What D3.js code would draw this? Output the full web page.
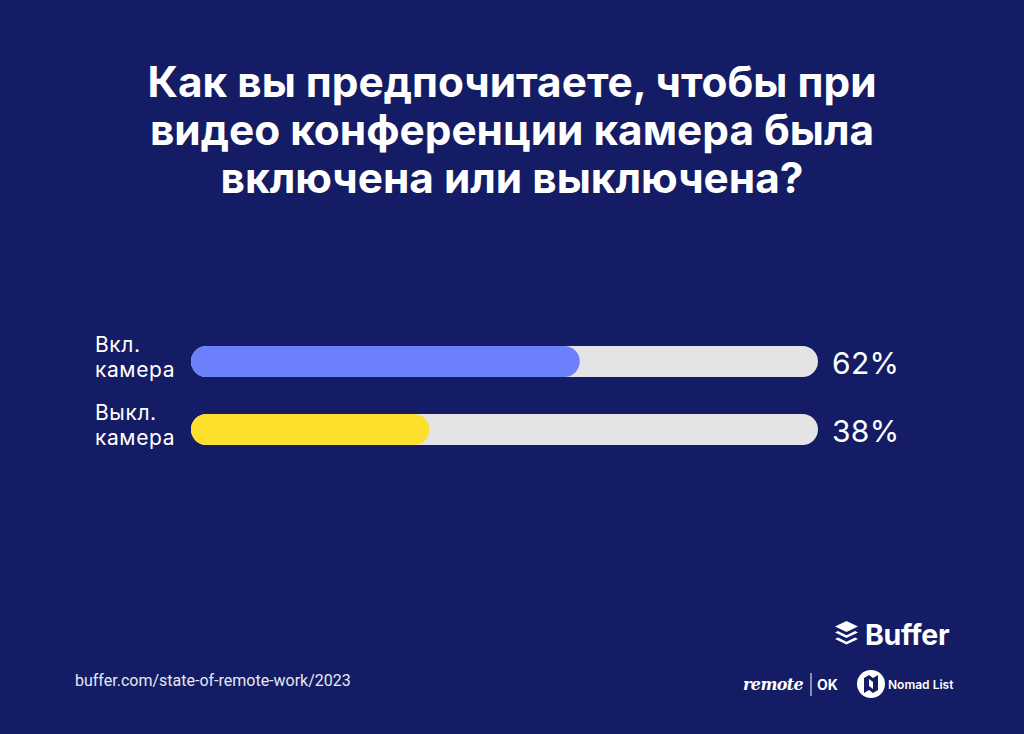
<!DOCTYPE html>
<html>
<head>
<meta charset="utf-8">
<script src="https://cdn.jsdelivr.net/npm/d3@7"></script>
<style>
  html, body { margin: 0; padding: 0; background: #131c64; }
  svg { display: block; }
</style>
</head>
<body>
<div id="chart"></div>
<script>
// Chart data
var titleLines = ['Как вы предпочитаете, чтобы при', 'видео конференции камера была', 'включена или выключена?'];
var categories = [['Вкл.', 'камера'], ['Выкл.', 'камера']];
var values = [62, 38];
var barColors = ['#6c80fc', '#fde02c'];
var sourceText = 'buffer.com/state-of-remote-work/2023';

var W = 1024, H = 734;
var BG = '#131c64';
var TRACK = '#e4e3e6';

var svg = d3.select('#chart').append('svg')
    .attr('width', W)
    .attr('height', H);

svg.append('rect').attr('width', W).attr('height', H).attr('fill', BG);

// Title, fitted so the first line spans about the same width as the original
var title = svg.append('g').attr('class', 'title');
var titleText = title.selectAll('text')
    .data(titleLines)
    .enter().append('text')
    .attr('x', W / 2)
    .attr('y', function(d, i) { return 97 + i * 48; })
    .attr('text-anchor', 'middle')
    .attr('fill', '#ffffff')
    .style('font-family', 'Inter, "Open Sans", sans-serif')
    .style('font-weight', 700)
    .style('font-size', '36px')
    .text(function(d) { return d; });
var firstWidth = titleText.node().getComputedTextLength();
var titleSize = 36 * 729 / firstWidth;
titleText.style('font-size', titleSize + 'px');

// Bars
var x = d3.scaleLinear().domain([0, 100]).range([191, 818]);
var y = d3.scalePoint().domain(d3.range(values.length)).range([346, 414]);
var barH = 31;

var rows = svg.selectAll('g.row')
    .data(values)
    .enter().append('g')
    .attr('class', 'row')
    .attr('transform', function(d, i) { return 'translate(0,' + y(i) + ')'; });

rows.append('rect')
    .attr('x', x(0))
    .attr('width', x(100) - x(0))
    .attr('height', barH)
    .attr('rx', barH / 2)
    .attr('fill', TRACK);

rows.append('rect')
    .attr('x', x(0))
    .attr('width', function(d) { return x(d) - x(0); })
    .attr('height', barH)
    .attr('rx', barH / 2)
    .attr('fill', function(d, i) { return barColors[i]; });

rows.append('text')
    .attr('x', 832)
    .attr('y', 27.5)
    .attr('fill', '#ffffff')
    .style('font-family', 'Inter, "Open Sans", sans-serif')
    .style('font-weight', 400)
    .style('font-size', '30px')
    .style('letter-spacing', '0.3px')
    .text(function(d) { return d + '%'; });

rows.each(function(d, i) {
    var label = d3.select(this).append('text')
        .attr('x', 95)
        .attr('fill', '#ffffff')
        .style('font-family', 'Inter, "Open Sans", sans-serif')
        .style('font-size', '21px')
        .style('letter-spacing', '0.6px');
    categories[i].forEach(function(line, j) {
        label.append('tspan')
            .attr('x', 95)
            .attr('y', 5.5 + j * 25)
            .text(line);
    });
});

// Footer source
svg.append('text')
    .attr('x', 75)
    .attr('y', 686)
    .attr('fill', '#e6e8f2')
    .style('font-family', 'Roboto, sans-serif')
    .style('font-size', '16px')
    .text(sourceText);

// Buffer logo
var buffer = svg.append('g').attr('transform', 'translate(835,621)');
buffer.append('path')
    .attr('d', 'M11.5,0 L23,5.5 L11.5,11 L0,5.5 Z')
    .attr('fill', '#ffffff');
buffer.append('path')
    .attr('d', 'M0,11.5 L3,10 L11.5,14.2 L20,10 L23,11.5 L11.5,17 Z')
    .attr('fill', '#ffffff');
buffer.append('path')
    .attr('d', 'M0,18 L3,16.5 L11.5,20.7 L20,16.5 L23,18 L11.5,23.5 Z')
    .attr('fill', '#ffffff');
svg.append('text')
    .attr('x', 865)
    .attr('y', 645)
    .attr('fill', '#ffffff')
    .style('font-family', 'Inter, sans-serif')
    .style('font-weight', 700)
    .style('font-size', '28.5px')
    .style('letter-spacing', '-0.3px')
    .text('Buffer');

// remote | OK
svg.append('text')
    .attr('x', 743)
    .attr('y', 690)
    .attr('fill', '#ffffff')
    .style('font-family', '"DejaVu Serif", serif')
    .style('font-style', 'italic')
    .style('font-weight', 700)
    .style('font-size', '16px')
    .style('letter-spacing', '-0.6px')
    .text('remote');
svg.append('line')
    .attr('x1', 811).attr('x2', 811)
    .attr('y1', 673).attr('y2', 696)
    .attr('stroke', '#ffffff').attr('stroke-width', 1);
svg.append('text')
    .attr('x', 817)
    .attr('y', 690)
    .attr('fill', '#ffffff')
    .style('font-family', 'Inter, sans-serif')
    .style('font-weight', 700)
    .style('font-size', '14px')
    .text('OK');

// Nomad List
var nomad = svg.append('g').attr('transform', 'translate(871,684)');
nomad.append('circle').attr('r', 14).attr('fill', '#ffffff');
nomad.append('path')
    .attr('d', 'M-7,-6 L-2,-9 L2,-6 L7,-9 L7,6 L2,9 L-2,6 L-7,9 Z')
    .attr('fill', BG);
nomad.append('path')
    .attr('d', 'M-2,-5 L2,-2 L2,5 L-2,2 Z')
    .attr('fill', '#ffffff');
svg.append('text')
    .attr('x', 888)
    .attr('y', 689)
    .attr('fill', '#ffffff')
    .style('font-family', 'Inter, sans-serif')
    .style('font-weight', 600)
    .style('font-size', '12px')
    .text('Nomad List');
</script>
</body>
</html>
